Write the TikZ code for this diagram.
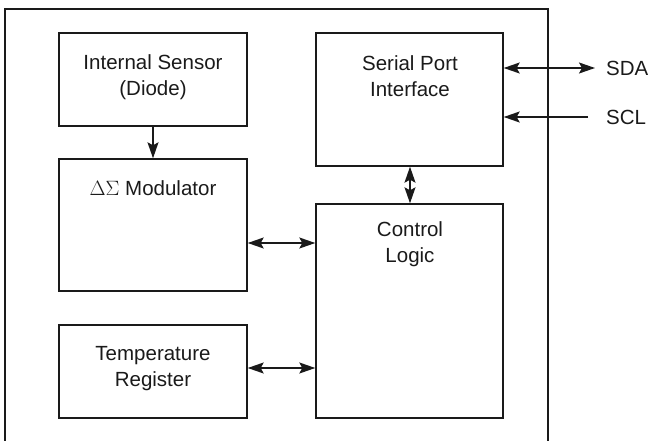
\documentclass[tikz,border=0pt]{standalone}
\usepackage{fontspec}
\setmainfont{Liberation Sans}
\usetikzlibrary{arrows.meta}
\definecolor{ink}{HTML}{1A1A1A}
\tikzset{
  blk/.style={draw=ink, line width=1.4pt, rectangle, inner sep=0pt},
  txt/.style={text=ink, align=center, font=\fontsize{20.5}{26}\selectfont, inner sep=0pt},
  tip/.style={Stealth[length=16pt,width=11pt,inset=3pt]},
  conn/.style={draw=ink, line width=1.4pt, -{Stealth[length=16pt,width=11pt,inset=3pt]}},
  bconn/.style={draw=ink, line width=1.4pt, {Stealth[length=16pt,width=11pt,inset=3pt]}-{Stealth[length=16pt,width=11pt,inset=3pt]}},
}
\begin{document}
\begin{tikzpicture}[x=1pt,y=-1pt]
\useasboundingbox (0,0) rectangle (648,441);
% outer frame (open at bottom)
\draw[ink, line width=1.4pt] (5,446) -- (5,9) -- (548,9) -- (548,446);
% blocks
\node[blk, minimum width=188pt, minimum height=93pt] (sens) at (153,79.5) {};
\node[txt] (senst) at (153,77) {Internal Sensor\\(Diode)};
\node[blk, minimum width=188pt, minimum height=132pt] (mod) at (153,225) {};
\node[txt, anchor=center] (modt) at (153,188) {$\Delta\Sigma$ Modulator};
\node[blk, minimum width=188pt, minimum height=93pt] (temp) at (153,371.5) {};
\node[txt] (tempt) at (153,369) {Temperature\\Register};
\node[blk, minimum width=187pt, minimum height=133pt] (spi) at (409.5,99.5) {};
\node[txt] (spit) at (410,76) {Serial Port\\Interface};
\node[blk, minimum width=187pt, minimum height=214pt] (ctl) at (409.5,311) {};
\node[txt] (ctlt) at (410,244) {Control\\Logic};
% external pins
\node[txt, anchor=west] (sda) at (606,68) {SDA};
\node[txt, anchor=west] (scl) at (606,117) {SCL};
\coordinate (sdaend) at (595,68);
\coordinate (sclend) at (588,117);
% connectors
\draw[conn] (sens.south) -- (mod.north);
\draw[bconn] (spi.south -| 410,0) -- (ctl.north -| 410,0);
\draw[bconn] (mod.east |- 0,243) -- (ctl.west |- 0,243);
\draw[bconn] (temp.east |- 0,368) -- (ctl.west |- 0,368);
\draw[bconn] (spi.east |- sdaend) -- (sdaend);
\draw[conn] (sclend) -- (spi.east |- sclend);
\end{tikzpicture}
\end{document}
